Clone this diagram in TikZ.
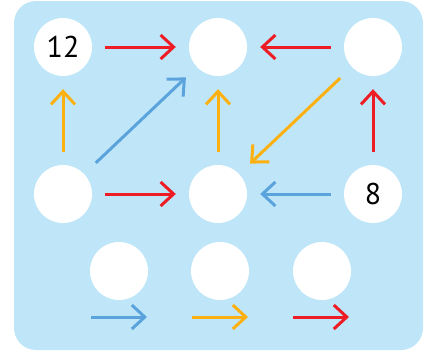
\documentclass[tikz,border=0pt]{standalone}
\usepackage{fontspec}
\setmainfont{PT Sans}
\usetikzlibrary{arrows.meta}
\definecolor{bgblue}{HTML}{BFE6F8}
\definecolor{ared}{HTML}{EE1C25}
\definecolor{aorange}{HTML}{FDB012}
\definecolor{ablue}{HTML}{5BA3DC}

\begin{document}
\begin{tikzpicture}
[
x=1pt, y=-1pt,
spot/.style={circle, fill=white, minimum size=58pt, inner sep=0pt, font=\fontsize{30}{30}\selectfont},
arr/.style={line width=3pt, -{Straight Barb[length=13pt, width=24pt]}, shorten <=13pt, shorten >=13pt},
diag/.style={arr, shorten <=16pt, shorten >=15pt}
]
\useasboundingbox (0,0) rectangle (431,351);
\fill[bgblue, rounded corners=22pt] (14,1) rectangle (423,350);

\node[spot] (tl) at (63,47) {12};
\node[spot] (tm) at (218,47) {};
\node[spot] (tr) at (373,47) {};
\node[spot] (ml) at (63,194) {};
\node[spot] (mm) at (218,194) {};
\node[spot] (mr) at (373,194) {8};
\node[spot] (b1) at (119,271) {};
\node[spot] (b2) at (220,271) {};
\node[spot] (b3) at (322,271) {};

\draw[arr, ared] (tl) -- (tm);
\draw[arr, ared] (tr) -- (tm);
\draw[arr, ared] (ml) -- (mm);
\draw[arr, ablue] (mr) -- (mm);
\draw[arr, aorange] (ml) -- (tl);
\draw[arr, aorange] (mm) -- (tm);
\draw[arr, ared] (mr) -- (tr);
\draw[diag, ablue] (ml) -- (tm);
\draw[diag, aorange] (tr) -- (mm);

% key
\coordinate (k1) at (91,317);
\coordinate (k2) at (147,317);
\coordinate (k3) at (192,317);
\coordinate (k4) at (248,317);
\coordinate (k5) at (293,317);
\coordinate (k6) at (349,317);
\draw[arr, ablue, shorten <=0pt, shorten >=0pt] (k1) -- (k2);
\draw[arr, aorange, shorten <=0pt, shorten >=0pt] (k3) -- (k4);
\draw[arr, ared, shorten <=0pt, shorten >=0pt] (k5) -- (k6);
\end{tikzpicture}
\end{document}
